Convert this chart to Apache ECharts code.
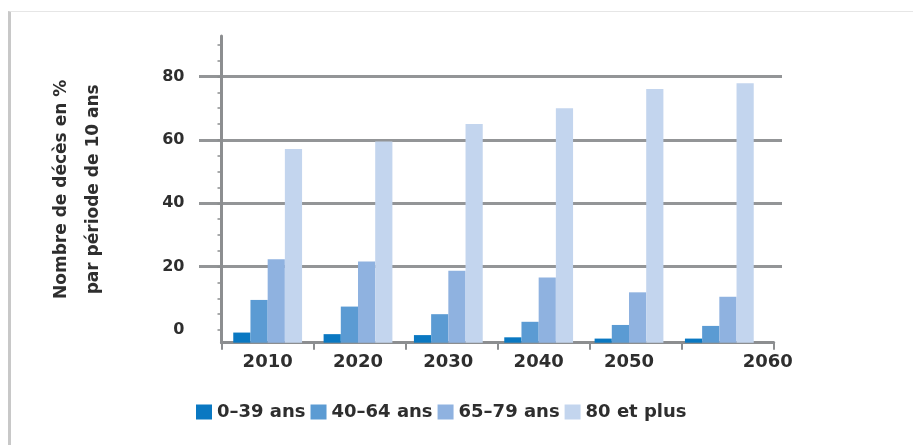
<!DOCTYPE html>
<html>
<head>
<meta charset="utf-8">
<script src="https://cdn.jsdelivr.net/npm/echarts@6/dist/echarts.min.js"></script>
<style>
  html, body { margin: 0; padding: 0; background: #fff; overflow: hidden; }
  #page { position: relative; width: 913px; height: 445px; overflow: hidden; background: #fff; }
  #frame {
    position: absolute; left: 8px; top: 11px; width: 960px; height: 480px;
    border-left: 3px solid #c8c8c8; border-top: 1px solid #e6e6e6;
  }
  #chart { position: absolute; left: 0; top: 0; width: 913px; height: 445px; }
</style>
</head>
<body>
<div id="page">
  <div id="frame"></div>
  <div id="chart"></div>
</div>
<script>
  // données (échelle des étiquettes)
  const years = ['2010', '2020', '2030', '2040', '2050', '2060'];
  const groupNames = ['0–39 ans', '40–64 ans', '65–79 ans', '80 et plus'];
  const age0to39 = [-0.8, -1.3, -1.6, -2.3, -2.7, -2.7];
  const age40to64 = [9.5, 7.4, 5.0, 2.6, 1.6, 1.3];
  const age65to79 = [22.3, 21.6, 18.7, 16.6, 11.9, 10.5];
  const age80plus = [57.1, 59.5, 65.0, 70.0, 76.1, 77.9];
  const yLabels = [0, 20, 40, 60, 80];
  const yGridValues = [20, 40, 60, 80];
  const yMinorTicks = [0, 5, 10, 15, 20, 25, 30, 35, 40, 45, 50, 55, 60, 65, 70, 75, 80, 85, 90];

  const colors = ['#0a78c2', '#5b9bd3', '#8fb2e0', '#c3d5ee'];
  const axisGray = '#8c8e90';
  const textColor = '#2e2e2e';
  const font = 'DejaVu Sans';
  const yMin = -4;
  const yMax = 92.8;
  const barW = 17.2;

  const chart = echarts.init(document.getElementById('chart'));

  const values = [age0to39, age40to64, age65to79, age80plus];

  // les barres partent de la ligne de base de l'axe (yMin), pas de 0
  const makeRenderItem = (i) => (params, api) => {
    const top = api.coord([api.value(0), api.value(1)]);
    const base = api.coord([api.value(0), yMin]);
    const x = top[0] - (barW * values.length) / 2 + i * barW;
    return {
      type: 'rect',
      shape: { x: x, y: top[1], width: barW, height: base[1] - top[1] },
      style: { fill: colors[i] }
    };
  };

  const option = {
    animation: false,
    color: colors,
    grid: [
      // barres + étiquettes des années
      { left: 222.5, right: 148.5, top: 36, bottom: 102.3 },
      // axes visibles
      { left: 221.5, right: 139.3, top: 36, bottom: 102.3 },
      // lignes de grille (débordent à gauche de l'axe)
      { left: 199, right: 131, top: 36, bottom: 102.3 }
    ],
    legend: {
      left: 191,
      top: 398,
      itemWidth: 16,
      itemHeight: 15,
      itemGap: 5,
      icon: 'rect',
      data: groupNames,
      textStyle: { fontFamily: font, fontWeight: 'bold', fontSize: 18, color: textColor }
    },
    xAxis: [
      {
        type: 'category', gridIndex: 0, data: years,
        axisLine: { show: false, onZero: false }, axisTick: { show: false },
        axisLabel: {
          interval: 0,
          margin: 11,
          fontFamily: font, fontWeight: 'bold', fontSize: 18, color: textColor,
          formatter: (v) => (v === '2060' ? '{r|' + v + '}' : v),
          rich: {
            r: { padding: [0, 0, 0, 97], fontFamily: font, fontWeight: 'bold', fontSize: 18, color: textColor }
          }
        }
      },
      {
        type: 'category', gridIndex: 1, data: years,
        axisLine: { onZero: false, lineStyle: { color: axisGray, width: 3 } },
        axisTick: { show: true, interval: 0, length: 7, lineStyle: { color: axisGray, width: 2 } },
        axisLabel: { show: false }
      },
      {
        type: 'category', gridIndex: 2, data: years, show: false
      }
    ],
    yAxis: [
      {
        type: 'value', gridIndex: 0, min: yMin, max: yMax,
        show: false, splitLine: { show: false }
      },
      {
        type: 'value', gridIndex: 1, min: yMin, max: yMax,
        axisLine: { show: true, lineStyle: { color: axisGray, width: 3 } },
        axisTick: { show: true, length: 4, customValues: yMinorTicks, lineStyle: { color: axisGray, width: 1.5 } },
        axisLabel: {
          customValues: yLabels, margin: 37,
          fontFamily: font, fontWeight: 'bold', fontSize: 16, color: textColor
        },
        splitLine: { show: false },
        name: 'Nombre de décès en %\npar période de 10 ans',
        nameLocation: 'middle',
        nameRotate: 90,
        nameGap: 112,
        nameTextStyle: { fontFamily: font, fontWeight: 'bold', fontSize: 17, color: textColor, lineHeight: 32 }
      },
      {
        type: 'value', gridIndex: 2, min: yMin, max: yMax,
        axisLine: { show: false },
        axisTick: { show: false, customValues: yGridValues },
        axisLabel: { show: false },
        splitLine: { show: true, lineStyle: { color: '#939597', width: 3 } }
      }
    ],
    series: groupNames.map((name, i) => ({
      name: name,
      type: 'custom',
      xAxisIndex: 0,
      yAxisIndex: 0,
      itemStyle: { color: colors[i] },
      renderItem: makeRenderItem(i),
      encode: { x: 0, y: 1 },
      data: values[i].map((v, k) => [k, v])
    }))
  };

  chart.setOption(option);
</script>
</body>
</html>
